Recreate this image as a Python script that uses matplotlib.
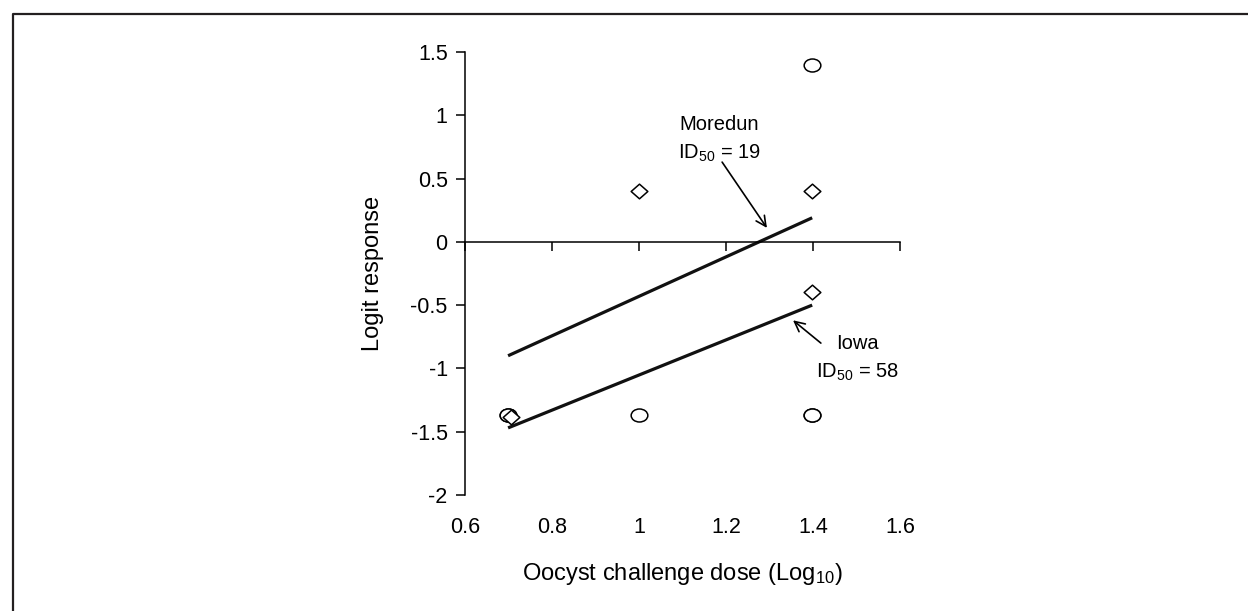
import numpy as np
import matplotlib
matplotlib.use('Agg')
import matplotlib.pyplot as plt
from matplotlib.path import Path
from matplotlib.transforms import Affine2D
from matplotlib.lines import Line2D

plt.rcParams['font.family'] = ['Liberation Sans', 'DejaVu Sans']
plt.rcParams['mathtext.default'] = 'regular'

# data (log10 dose, logit response)
circle_x = [0.699, 0.699, 1.0, 1.398, 1.398, 1.398]
circle_y = [-1.37, -1.37, -1.37, -1.37, -1.37, 1.40]
diamond_x = [0.706, 1.0, 1.398, 1.398]
diamond_y = [-1.38, 0.40, 0.40, -0.40]
moredun_x = [0.699, 1.398]
moredun_y = [-0.90, 0.19]
iowa_x = [0.699, 1.398]
iowa_y = [-1.47, -0.50]

xticks = [0.6, 0.8, 1.0, 1.2, 1.4, 1.6]
xticklabels = ['0.6', '0.8', '1', '1.2', '1.4', '1.6']
yticks = [-2, -1.5, -1, -0.5, 0, 0.5, 1, 1.5]
yticklabels = ['-2', '-1.5', '-1', '-0.5', '0', '0.5', '1', '1.5']

# slightly flattened markers, as in the original
ellipse = Path.unit_circle().transformed(Affine2D().scale(1, 0.78))
diamond = Path([(0, 1), (1, 0), (0, -1), (-1, 0), (0, 1)],
               [Path.MOVETO, Path.LINETO, Path.LINETO, Path.LINETO, Path.CLOSEPOLY])
diamond = diamond.transformed(Affine2D().scale(1, 0.88))

fig = plt.figure(figsize=(12.48, 6.11), dpi=100)
ax = fig.add_axes([0.3726, 0.1899, 0.3486, 0.725])

ax.plot(moredun_x, moredun_y, color='#111111', lw=2.3, solid_capstyle='butt')
ax.plot(iowa_x, iowa_y, color='#111111', lw=2.3, solid_capstyle='butt')
ax.plot(circle_x, circle_y, ls='none', marker=ellipse, ms=12, mfc='white',
        mec='black', mew=1.1)
ax.plot(diamond_x, diamond_y, ls='none', marker=diamond, ms=12, mfc='white',
        mec='black', mew=1.1)

ax.set_xlim(0.6, 1.6)
ax.set_ylim(-2, 1.5)

for s in ['top', 'right']:
    ax.spines[s].set_visible(False)
ax.spines['bottom'].set_position(('data', 0))
ax.spines['left'].set_linewidth(1.1)
ax.spines['bottom'].set_linewidth(1.1)

ax.set_yticks(yticks)
ax.set_yticklabels(yticklabels)
ax.set_xticks(xticks)
ax.tick_params(axis='x', direction='out', length=6.5, width=1.1, labelbottom=False)
ax.tick_params(axis='y', direction='out', length=6.5, width=1.1, labelsize=15.5, pad=6)

# tick labels sit below the plot, not on the zero line
sec = ax.secondary_xaxis('bottom')
sec.spines['bottom'].set_visible(False)
sec.set_xticks(xticks)
sec.set_xticklabels(xticklabels)
sec.tick_params(length=0, labelsize=15.5, pad=16)

ax.set_xlabel('Oocyst challenge dose (Log$_{10}$)', fontsize=17)
ax.xaxis.set_label_coords(0.5, -0.148)
ax.set_ylabel('Logit response', fontsize=17)
ax.yaxis.set_label_coords(-0.186, 0.5)

arrow = dict(arrowstyle='->', color='black', lw=1.2, mutation_scale=18,
             shrinkA=0, shrinkB=0)
ax.text(1.184, 0.93, 'Moredun', ha='center', va='center', fontsize=14.5)
ax.text(1.184, 0.70, 'ID$_{50}$ = 19', ha='center', va='center', fontsize=14.5)
ax.annotate('', xy=(1.294, 0.11), xytext=(1.191, 0.63), arrowprops=arrow)

ax.text(1.501, -0.80, 'Iowa', ha='center', va='center', fontsize=14.5)
ax.text(1.503, -1.03, 'ID$_{50}$ = 58', ha='center', va='center', fontsize=14.5)
ax.annotate('', xy=(1.354, -0.62), xytext=(1.418, -0.80), arrowprops=arrow)

# outer frame (cut off at right and bottom)
fx = 12.5 / 1248
fy = 1 - 13.5 / 611
fig.add_artist(Line2D([fx, fx, 1.01], [-0.01, fy, fy], transform=fig.transFigure,
                      color='#231f20', lw=1.6))

fig.savefig('out.png', dpi=100)
